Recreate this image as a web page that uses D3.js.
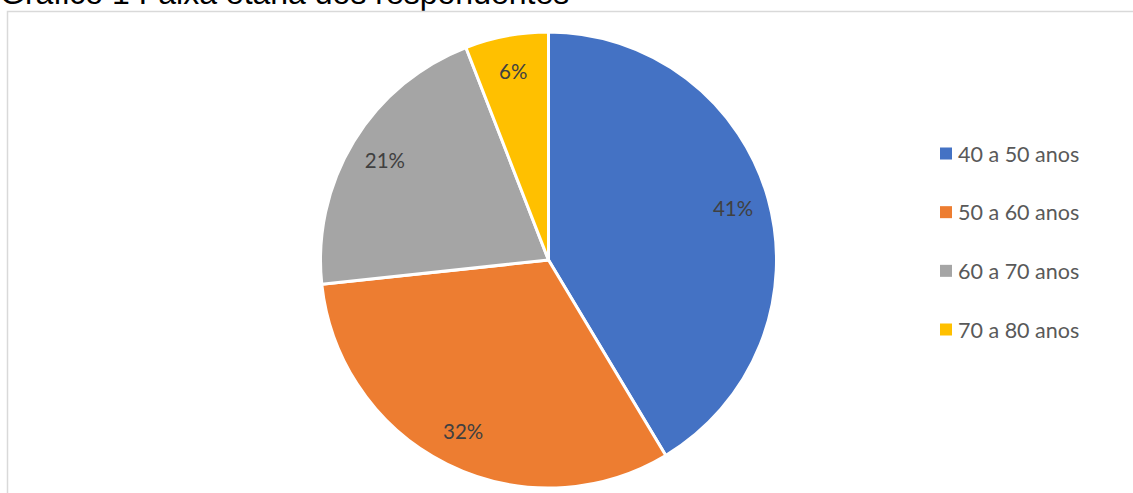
<!DOCTYPE html>
<html>
<head>
<meta charset="utf-8">
<script src="https://cdn.jsdelivr.net/npm/d3@7"></script>
<style>
  html, body { margin: 0; padding: 0; background: #fff; overflow: hidden; }
  svg { display: block; }
</style>
</head>
<body>
<svg id="viz" width="1133" height="493"></svg>
<script>
// data (shares, in %)
const categories = ["40 a 50 anos", "50 a 60 anos", "60 a 70 anos", "70 a 80 anos"];
const shares = [41.4, 31.9, 20.8, 5.9];
const colors = ["#4472c4", "#ed7d31", "#a5a5a5", "#ffc000"];
const title = "Gráfico 1 Faixa etária dos respondentes";

const CX = 548.5, CY = 260, R = 228;

const svg = d3.select("#viz");

// title, partly cut at the top like the source
svg.append("text")
  .attr("x", 0)
  .attr("y", 4)
  .attr("font-family", "Liberation Sans, Arial, sans-serif")
  .attr("font-size", 32)
  .attr("fill", "#000")
  .text(title);

// chart frame
svg.append("rect")
  .attr("x", 7.5)
  .attr("y", 11.5)
  .attr("width", 1140)
  .attr("height", 500)
  .attr("fill", "#fff")
  .attr("stroke", "#d9d9d9")
  .attr("stroke-width", 1.5);

const total = d3.sum(shares);
const rows = categories.map((c, i) => ({ cat: c, value: shares[i], color: colors[i] }));

const pie = d3.pie().sort(null).value(d => d.value);
const arc = d3.arc().innerRadius(0).outerRadius(R);
const labelArc = d3.arc().innerRadius(R * 0.84).outerRadius(R * 0.84);

const g = svg.append("g").attr("transform", `translate(${CX},${CY})`);

const arcs = pie(rows);

g.selectAll("path")
  .data(arcs)
  .join("path")
  .attr("d", arc)
  .attr("fill", d => d.data.color)
  .attr("stroke", "#fff")
  .attr("stroke-width", 3)
  .attr("stroke-linejoin", "round");

const fmt = d3.format(".0%");

g.selectAll("text.lbl")
  .data(arcs)
  .join("text")
  .attr("class", "lbl")
  .attr("transform", d => `translate(${labelArc.centroid(d)})`)
  .attr("text-anchor", "middle")
  .attr("dy", "0.35em")
  .attr("font-family", "Lato, sans-serif")
  .attr("font-size", 20.5)
  .attr("fill", "#404040")
  .text(d => fmt(d.data.value / total));

// legend
const legend = svg.append("g").attr("transform", "translate(940,154)");
const ly = d3.scalePoint().domain(categories).range([0, 176]);

const item = legend.selectAll("g")
  .data(rows)
  .join("g")
  .attr("transform", d => `translate(0,${ly(d.cat)})`);

item.append("rect")
  .attr("x", 0)
  .attr("y", -6.5)
  .attr("width", 12)
  .attr("height", 12)
  .attr("fill", d => d.color);

item.append("text")
  .attr("x", 18)
  .attr("dy", "0.36em")
  .attr("font-family", "Lato, sans-serif")
  .attr("font-size", 21.5)
  .attr("fill", "#595959")
  .text(d => d.cat);
</script>
</body>
</html>
